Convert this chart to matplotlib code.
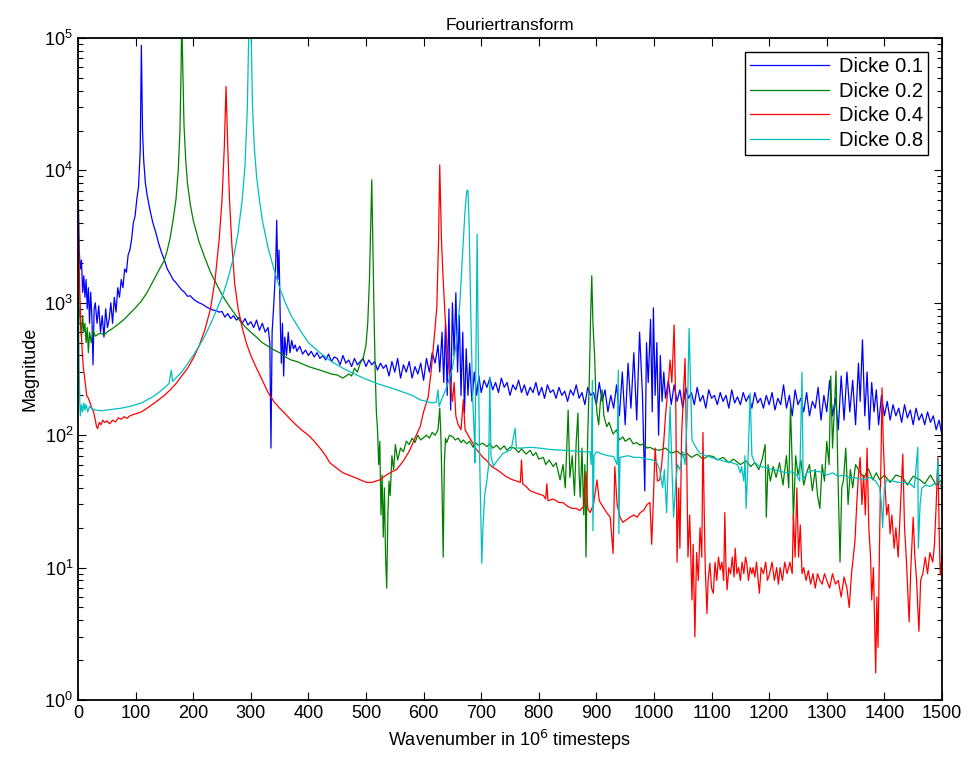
import numpy as np
import matplotlib
matplotlib.use('Agg')
import matplotlib.pyplot as plt
from matplotlib.ticker import LogLocator, NullFormatter, FixedLocator

# (wavenumber, magnitude)
blue_pts = [
    (0, 9000), (2, 2500), (4, 1800), (6, 2100), (8, 1200), (10, 1600), (12, 1100), (14, 1500),
    (16, 900), (18, 1300), (20, 700), (22, 1200), (24, 800), (26, 340), (28, 900), (30, 1000),
    (33, 700), (36, 950), (39, 600), (42, 800), (45, 550), (48, 900), (51, 650), (54, 750),
    (57, 1000), (60, 700), (63, 1100), (66, 850), (69, 1300), (72, 1100), (75, 1500), (78, 1300),
    (81, 1800), (84, 1700), (87, 2300), (90, 2500), (93, 3000), (96, 4000), (99, 4500), (102, 6000),
    (105, 7500), (108, 14000), (110, 88000), (112, 20000), (114, 12000), (117, 8000), (120, 6500),
    (125, 5000), (130, 4000), (135, 3400), (140, 2800), (145, 2400), (150, 2100), (155, 1800),
    (160, 1650), (165, 1500), (170, 1420), (175, 1330), (180, 1250), (185, 1200), (190, 1120),
    (195, 1130), (200, 1070), (205, 1030), (210, 1000), (215, 980), (220, 950), (225, 920),
    (230, 900), (235, 880), (240, 870), (245, 850), (250, 860), (255, 780), (260, 830), (265, 760),
    (270, 800), (275, 740), (280, 780), (285, 700), (290, 760), (295, 680), (300, 720), (305, 650),
    (310, 740), (315, 620), (320, 700), (325, 600), (330, 650), (333, 500), (335, 80), (337, 600),
    (340, 1000), (343, 1800), (345, 4200), (347, 1500), (349, 2500), (351, 800), (353, 350),
    (355, 700), (357, 280), (359, 550), (362, 400), (365, 600), (368, 420), (371, 520), (374, 450),
    (377, 480), (380, 430), (385, 470), (390, 410), (395, 440), (400, 400), (405, 430), (410, 390),
    (415, 420), (420, 380), (425, 400), (430, 370), (435, 410), (440, 360), (445, 390), (450, 380),
    (455, 340), (460, 400), (465, 350), (470, 370), (475, 330), (480, 380), (485, 340), (490, 360),
    (495, 380), (500, 330), (505, 370), (510, 340), (515, 360), (520, 310), (525, 350), (530, 320),
    (535, 340), (540, 280), (545, 360), (550, 300), (555, 380), (560, 270), (565, 340), (570, 300),
    (575, 360), (580, 270), (585, 330), (590, 290), (595, 350), (600, 260), (605, 380), (610, 300),
    (615, 420), (620, 350), (625, 480), (628, 300), (632, 600), (635, 250), (638, 700), (641, 200),
    (644, 900), (647, 155), (650, 1000), (653, 400), (656, 1190), (659, 300), (662, 800), (665, 200),
    (668, 600), (671, 147), (674, 450), (677, 200), (680, 350), (684, 180), (688, 300), (692, 200),
    (696, 280), (700, 210), (705, 260), (710, 230), (715, 270), (720, 220), (725, 250), (730, 210),
    (735, 270), (740, 230), (745, 250), (750, 200), (755, 240), (760, 220), (765, 260), (770, 210),
    (775, 240), (780, 200), (785, 230), (790, 210), (795, 250), (800, 200), (805, 230), (810, 190),
    (815, 240), (820, 210), (825, 220), (830, 190), (835, 230), (840, 200), (845, 215), (850, 180),
    (855, 220), (860, 200), (865, 240), (870, 190), (875, 210), (880, 170), (885, 230), (890, 200),
    (895, 210), (900, 170), (905, 250), (910, 180), (915, 220), (920, 150), (925, 200), (930, 160),
    (935, 240), (940, 140), (945, 300), (950, 120), (955, 350), (960, 160), (965, 420), (970, 130),
    (975, 600), (980, 200), (984, 38), (987, 500), (990, 250), (994, 750), (997, 150), (999, 915),
    (1002, 200), (1005, 500), (1008, 100), (1011, 400), (1014, 180), (1017, 300), (1020, 190),
    (1025, 260), (1030, 170), (1035, 240), (1040, 180), (1045, 220), (1050, 160), (1055, 230),
    (1060, 190), (1065, 210), (1070, 170), (1075, 230), (1080, 180), (1085, 200), (1090, 160),
    (1095, 220), (1100, 190), (1105, 200), (1110, 170), (1115, 210), (1120, 180), (1125, 200),
    (1130, 160), (1135, 220), (1140, 175), (1145, 195), (1150, 170), (1155, 210), (1160, 180),
    (1165, 200), (1170, 160), (1175, 210), (1180, 175), (1185, 190), (1190, 160), (1195, 200),
    (1200, 170), (1205, 210), (1210, 155), (1215, 190), (1220, 170), (1225, 240), (1230, 160),
    (1235, 200), (1240, 140), (1245, 220), (1250, 170), (1255, 190), (1260, 150), (1265, 210),
    (1270, 140), (1275, 180), (1280, 160), (1285, 230), (1290, 130), (1295, 200), (1300, 150),
    (1305, 260), (1310, 140), (1315, 190), (1320, 110), (1325, 280), (1330, 130), (1335, 300),
    (1340, 150), (1345, 260), (1350, 120), (1355, 350), (1358, 180), (1362, 525), (1366, 140),
    (1370, 300), (1374, 110), (1378, 250), (1382, 150), (1386, 220), (1390, 120), (1395, 200),
    (1400, 140), (1405, 180), (1410, 130), (1415, 170), (1420, 140), (1425, 160), (1430, 125),
    (1435, 170), (1440, 135), (1445, 155), (1450, 120), (1455, 160), (1460, 130), (1465, 145),
    (1470, 120), (1475, 150), (1480, 125), (1485, 140), (1490, 110), (1495, 130), (1500, 100),
]

green_pts = [
    (0, 2500), (2, 900), (4, 700), (6, 550), (8, 800), (10, 600), (12, 700), (14, 500), (16, 650),
    (18, 420), (20, 600), (23, 500), (26, 620), (30, 560), (35, 580), (40, 590), (45, 570),
    (50, 600), (55, 620), (60, 640), (70, 690), (80, 750), (90, 830), (100, 920), (110, 1030),
    (120, 1200), (130, 1450), (140, 1750), (150, 2100), (155, 2500), (160, 3100), (165, 4200),
    (170, 6000), (174, 10000), (177, 20000), (179, 60000), (180, 150000), (182, 60000),
    (184, 22000), (187, 12000), (190, 8000), (195, 5500), (200, 4200), (210, 2900), (220, 2200),
    (230, 1700), (240, 1400), (250, 1150), (260, 980), (270, 850), (280, 740), (290, 660),
    (300, 600), (310, 550), (320, 500), (330, 470), (340, 440), (350, 420), (360, 390), (370, 370),
    (380, 360), (390, 345), (400, 330), (410, 320), (420, 310), (430, 300), (440, 290), (450, 285),
    (460, 270), (470, 290), (475, 280), (480, 320), (485, 300), (490, 350), (495, 380), (500, 480),
    (503, 700), (506, 1500), (508, 3500), (510, 8500), (512, 2500), (514, 800), (516, 300),
    (518, 150), (520, 110), (522, 60), (524, 90), (526, 25), (528, 50), (530, 17), (532, 40),
    (534, 12), (536, 7), (538, 25), (540, 45), (542, 35), (545, 70), (548, 55), (551, 85),
    (555, 65), (560, 80), (565, 75), (570, 90), (575, 85), (580, 95), (585, 88), (590, 100),
    (595, 92), (600, 96), (605, 100), (610, 95), (615, 105), (620, 100), (625, 110), (628, 160),
    (630, 100), (632, 40), (634, 12), (636, 60), (638, 95), (640, 88), (645, 100), (651, 97),
    (655, 92), (660, 95), (665, 88), (669, 92), (675, 86), (680, 90), (686, 81), (690, 88),
    (695, 84), (703, 87), (710, 82), (715, 86), (720, 80), (727, 84), (733, 78), (740, 83),
    (745, 77), (750, 81), (758, 80), (765, 74), (770, 79), (778, 72), (785, 77), (790, 70),
    (795, 74), (800, 66), (808, 68), (812, 60), (818, 65), (825, 58), (830, 62), (837, 46),
    (842, 60), (846, 40), (851, 155), (854, 48), (858, 70), (862, 35), (865, 90), (868, 147),
    (870, 50), (872, 34), (875, 80), (878, 25), (880, 60), (882, 12), (885, 100), (888, 300),
    (890, 800), (892, 1600), (894, 700), (897, 390), (899, 200), (901, 147), (904, 120),
    (907, 180), (910, 220), (913, 140), (918, 116), (922, 125), (929, 102), (935, 110), (940, 92),
    (946, 97), (950, 90), (958, 95), (964, 86), (970, 88), (976, 84), (982, 86), (988, 80),
    (993, 81), (1000, 78), (1010, 77), (1020, 80), (1030, 73), (1040, 76), (1050, 70), (1057, 73),
    (1065, 68), (1075, 72), (1085, 66), (1095, 70), (1103, 69), (1110, 65), (1120, 68), (1130, 62),
    (1138, 66), (1144, 63), (1150, 60), (1160, 64), (1168, 58), (1175, 62), (1182, 55), (1188, 66),
    (1193, 85), (1195, 24), (1198, 60), (1202, 45), (1207, 58), (1212, 48), (1218, 62), (1224, 42),
    (1230, 70), (1234, 40), (1237, 165), (1240, 60), (1242, 23), (1246, 70), (1250, 50),
    (1255, 65), (1260, 42), (1265, 52), (1270, 60), (1275, 38), (1280, 55), (1284, 35), (1288, 28),
    (1292, 60), (1296, 45), (1300, 90), (1304, 60), (1307, 280), (1310, 80), (1313, 150),
    (1316, 305), (1319, 60), (1323, 11), (1326, 40), (1329, 46), (1333, 80), (1337, 30), (1341, 55),
    (1345, 40), (1350, 60), (1358, 52), (1365, 48), (1372, 56), (1380, 46), (1386, 52), (1392, 46),
    (1400, 50), (1410, 44), (1420, 50), (1432, 48), (1440, 42), (1450, 49), (1462, 46), (1470, 43),
    (1480, 50), (1490, 42), (1500, 46),
]

red_pts = [
    (0, 8000), (1, 3000), (3, 1200), (5, 700), (7, 450), (9, 330), (12, 260), (15, 200), (18, 190),
    (21, 175), (24, 160), (27, 150), (30, 130), (32, 117), (34, 112), (37, 125), (40, 120),
    (43, 130), (46, 125), (50, 128), (55, 122), (60, 130), (65, 126), (70, 135), (75, 132),
    (80, 138), (85, 134), (90, 140), (95, 143), (100, 145), (110, 150), (120, 160), (130, 172),
    (140, 185), (150, 200), (160, 220), (170, 245), (180, 280), (190, 320), (200, 380), (210, 470),
    (220, 620), (230, 900), (238, 1500), (245, 3000), (250, 6000), (254, 15000), (257, 43000),
    (260, 15000), (263, 6000), (267, 2800), (272, 1400), (278, 900), (285, 650), (292, 500),
    (300, 400), (310, 320), (320, 260), (330, 210), (340, 180), (350, 160), (360, 145), (370, 130),
    (380, 118), (390, 108), (400, 100), (410, 90), (420, 80), (430, 70), (437, 62), (450, 56),
    (460, 52), (470, 50), (480, 48), (490, 46), (501, 44), (510, 44), (517, 45), (524, 46),
    (535, 50), (545, 53), (553, 55), (565, 64), (576, 77), (585, 95), (594, 116), (600, 150),
    (608, 195), (613, 300), (617, 465), (620, 650), (623, 940), (626, 3000), (628, 11000),
    (631, 3000), (634, 1500), (637, 840), (641, 450), (646, 260), (650, 180), (653, 250),
    (656, 140), (660, 120), (665, 110), (669, 185), (672, 110), (675, 104), (680, 95), (685, 88),
    (690, 80), (695, 75), (703, 68), (710, 64), (718, 58), (727, 55), (735, 52), (742, 49),
    (750, 47), (755, 46), (762, 45), (768, 44), (770, 65), (772, 43), (778, 41), (785, 38),
    (792, 37), (800, 36), (808, 35), (812, 33), (814, 43), (816, 32), (825, 33), (835, 31),
    (842, 31), (850, 29), (858, 28), (865, 28), (871, 27), (878, 29), (882, 53), (885, 28),
    (889, 26), (895, 30), (901, 46), (905, 32), (911, 29), (918, 26), (924, 24), (929, 12.8),
    (932, 58), (936, 30), (941, 24), (946, 22), (952, 23), (958, 24), (965, 25), (971, 24),
    (976, 26), (982, 27), (988, 30), (993, 31), (996, 15), (998, 25), (1002, 80), (1006, 45),
    (1010, 46), (1013, 58), (1017, 90), (1020, 140), (1024, 220), (1028, 370), (1031, 250),
    (1035, 680), (1038, 150), (1040, 11), (1043, 40), (1045, 14), (1048, 100), (1051, 200),
    (1054, 380), (1057, 60), (1059, 12), (1062, 25), (1066, 5.7), (1068, 15), (1071, 3), (1074, 13),
    (1077, 8), (1080, 20), (1083, 12), (1085, 105), (1087, 30), (1089, 10), (1092, 4.5), (1094, 8),
    (1097, 10.8), (1100, 7), (1103, 6.4), (1106, 11), (1109, 8), (1112, 12), (1115, 9.6),
    (1118, 11), (1121, 8), (1123, 26), (1125, 10), (1127, 6.8), (1130, 10), (1133, 9), (1136, 12),
    (1139, 8.5), (1141, 14), (1144, 9), (1147, 10), (1150, 8), (1153, 11), (1156, 9), (1159, 12),
    (1161, 10.8), (1164, 8), (1167, 10), (1170, 9), (1172, 10), (1175, 8.5), (1178, 11), (1181, 8),
    (1183, 6.4), (1186, 10), (1190, 9), (1194, 11), (1197, 8), (1201, 9.1), (1205, 11), (1209, 8),
    (1213, 10), (1216, 7.5), (1219, 10), (1223, 8), (1227, 11), (1231, 9), (1236, 11), (1240, 9),
    (1242, 25), (1245, 12), (1248, 40), (1251, 12), (1254, 21), (1257, 9), (1260, 10), (1264, 8),
    (1268, 9.5), (1272, 7.5), (1276, 9), (1280, 7), (1284, 9), (1288, 8), (1292, 7.5), (1296, 9),
    (1300, 8), (1305, 7), (1310, 9), (1315, 7.5), (1320, 8), (1325, 6), (1330, 8.5), (1335, 7),
    (1339, 5), (1343, 9), (1346, 12), (1349, 16), (1352, 30), (1355, 50), (1358, 68), (1361, 30),
    (1364, 50), (1367, 25), (1370, 80), (1373, 20), (1376, 12), (1378, 5.7), (1381, 10), (1383, 4),
    (1385, 1.6), (1387, 6), (1389, 2.5), (1392, 20), (1394, 60), (1396, 228), (1398, 90),
    (1401, 43), (1404, 25), (1407, 30), (1410, 18), (1413, 25), (1417, 14), (1420, 20), (1424, 12),
    (1428, 30), (1432, 72), (1435, 20), (1438, 12), (1441, 6), (1443, 3.9), (1446, 10), (1450, 24),
    (1453, 12), (1456, 8), (1458, 5), (1460, 3.3), (1463, 8), (1467, 9.1), (1471, 12), (1475, 9),
    (1479, 13), (1484, 11), (1487, 15), (1490, 30), (1493, 68), (1495, 20), (1497, 8.8), (1500, 12),
]

cyan_pts = [
    (0, 2500), (1, 800), (2, 300), (3, 180), (4, 140), (6, 170), (8, 150), (10, 175), (12, 155),
    (14, 170), (17, 150), (20, 165), (25, 158), (30, 155), (40, 153), (50, 155), (60, 157),
    (75, 160), (90, 165), (100, 170), (110, 175), (120, 185), (130, 195), (140, 210), (150, 228),
    (158, 245), (162, 310), (164, 255), (170, 270), (180, 300), (190, 345), (200, 400), (210, 470),
    (220, 560), (230, 690), (240, 870), (250, 1100), (260, 1500), (270, 2200), (278, 3400),
    (285, 6000), (290, 11000), (294, 30000), (297, 150000), (300, 150000), (303, 30000),
    (306, 15000), (310, 9000), (315, 6000), (320, 4200), (330, 2600), (340, 1800), (350, 1300),
    (360, 1000), (370, 800), (380, 680), (390, 580), (400, 500), (420, 420), (440, 360), (460, 320),
    (480, 290), (500, 265), (520, 245), (540, 230), (560, 215), (580, 200), (594, 185), (605, 180),
    (615, 175), (622, 178), (625, 220), (627, 165), (630, 180), (640, 230), (650, 320), (657, 500),
    (663, 1000), (668, 2500), (672, 5000), (675, 7000), (677, 7100), (679, 4000), (682, 800),
    (685, 200), (688, 100), (689, 62), (691, 500), (693, 3300), (695, 400), (697, 80), (699, 30),
    (701, 10.8), (703, 20), (706, 35), (710, 46), (713, 60), (715, 275), (717, 70), (721, 58),
    (725, 62), (730, 66), (738, 73), (745, 75), (752, 78), (759, 113), (761, 80), (770, 80),
    (785, 81), (800, 80), (820, 78), (842, 77), (860, 76), (875, 75), (889, 75), (891, 60),
    (893, 260), (894, 19), (896, 70), (900, 75), (910, 72), (920, 70), (930, 69), (936, 60),
    (938, 310), (939, 18), (941, 68), (955, 70), (965, 68), (976, 68), (988, 66), (998, 65),
    (1005, 62), (1010, 55), (1015, 40), (1018, 55), (1022, 26), (1025, 70), (1028, 165), (1031, 60),
    (1034, 24), (1038, 45), (1041, 60), (1045, 55), (1050, 75), (1054, 60), (1058, 150),
    (1061, 640), (1064, 200), (1066, 92), (1070, 85), (1075, 78), (1080, 73), (1090, 70),
    (1100, 68), (1108, 66), (1115, 65), (1125, 63), (1135, 62), (1145, 60), (1150, 52), (1152, 58),
    (1156, 45), (1158, 70), (1160, 28), (1163, 60), (1167, 208), (1170, 70), (1175, 62), (1184, 58),
    (1195, 57), (1205, 55), (1215, 54), (1230, 52), (1240, 53), (1248, 50), (1253, 45), (1257, 300),
    (1259, 46), (1265, 52), (1275, 54), (1288, 53), (1300, 50), (1310, 52), (1320, 49), (1330, 50),
    (1338, 48), (1346, 48), (1355, 47), (1365, 46), (1375, 48), (1385, 45), (1392, 40), (1395, 30),
    (1397, 20), (1400, 40), (1404, 46), (1415, 45), (1425, 44), (1435, 44), (1445, 43), (1452, 40),
    (1456, 65), (1458, 81), (1459, 14), (1462, 30), (1465, 40), (1472, 42), (1480, 41), (1486, 43),
    (1491, 43), (1493, 65), (1495, 45), (1500, 38),
]

series = [
    ('Dicke 0.1', blue_pts, '#0000ff'),
    ('Dicke 0.2', green_pts, '#008000'),
    ('Dicke 0.4', red_pts, '#ff0000'),
    ('Dicke 0.8', cyan_pts, '#00bfbf'),
]

plt.rcParams['font.family'] = ['Liberation Sans', 'DejaVu Sans']

fig = plt.figure(figsize=(9.68, 7.69), dpi=100)
ax = fig.add_axes([0.0806, 0.0897, 0.8925, 0.8609])

for label, pts, color in series:
    xs, ys = zip(*pts)
    ax.plot(xs, ys, color=color, lw=0.9, label=label)

ax.set_yscale('log')
ax.set_xlim(0, 1500)
ax.set_ylim(1, 1e5)
ax.xaxis.set_major_locator(FixedLocator(np.arange(0, 1501, 100)))
ax.yaxis.set_major_locator(LogLocator(base=10, numticks=10))
ax.yaxis.set_minor_locator(LogLocator(base=10, subs=np.arange(2, 10), numticks=20))
ax.yaxis.set_minor_formatter(NullFormatter())

ax.tick_params(which='both', direction='in', top=True, right=True)
ax.tick_params(which='major', length=6, width=0.8, labelsize=13)
ax.tick_params(which='minor', length=3.5, width=0.8)
for sp in ax.spines.values():
    sp.set_linewidth(1.3)

ax.set_title('Fouriertransform', fontsize=12.5, pad=6)
ax.set_xlabel('Wavenumber in 10$^6$ timesteps', fontsize=13, labelpad=4)
ax.set_ylabel('Magnitude', fontsize=13, labelpad=4)

leg = ax.legend(loc='upper right', fontsize=14.5, fancybox=False, framealpha=1,
                edgecolor='black', handlelength=3.9, borderpad=0.25, labelspacing=0.28,
                handletextpad=0.5, borderaxespad=0.7)
leg.get_frame().set_linewidth(1.0)

fig.savefig('out.png', dpi=100)
